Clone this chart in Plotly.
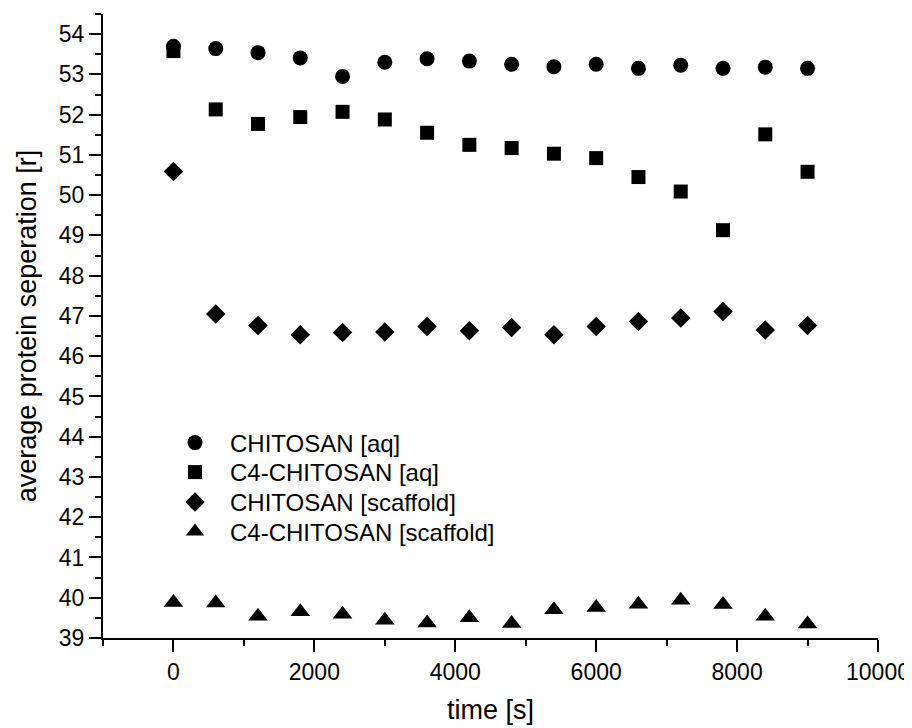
import plotly.graph_objects as go

time_s = [0, 600, 1200, 1800, 2400, 3000, 3600, 4200, 4800, 5400, 6000, 6600, 7200, 7800, 8400, 9000]

chitosan_aq = [53.70, 53.64, 53.54, 53.41, 52.95, 53.30, 53.39, 53.33, 53.25, 53.19, 53.25, 53.15, 53.23, 53.15, 53.18, 53.15]
c4_chitosan_aq = [53.58, 52.13, 51.77, 51.94, 52.07, 51.88, 51.55, 51.25, 51.17, 51.03, 50.92, 50.45, 50.09, 49.13, 51.51, 50.58]
chitosan_scaffold = [50.59, 47.05, 46.76, 46.53, 46.59, 46.60, 46.74, 46.63, 46.71, 46.53, 46.74, 46.86, 46.95, 47.11, 46.65, 46.76]
c4_chitosan_scaffold = [39.88, 39.87, 39.54, 39.65, 39.59, 39.44, 39.37, 39.50, 39.36, 39.70, 39.76, 39.84, 39.94, 39.83, 39.54, 39.35]

series_names = ["CHITOSAN [aq]", "C4-CHITOSAN [aq]", "CHITOSAN [scaffold]", "C4-CHITOSAN [scaffold]"]
series_values = [chitosan_aq, c4_chitosan_aq, chitosan_scaffold, c4_chitosan_scaffold]
symbols = ["circle", "square", "diamond", "triangle-up"]
sizes = [15, 14, 15, 17]
legend_ids = ["legend", "legend2", "legend3", "legend4"]
# legend row centres, in page pixels from the top
legend_rows_px = [443.0, 472.5, 502.5, 532.0]

FONT = "Liberation Sans, Arial, sans-serif"
PAGE_OFFSET = 8  # default body margin of the html page
W, H = 912 - PAGE_OFFSET, 728 - PAGE_OFFSET
ML, MR, MT, MB = 103 - PAGE_OFFSET, 34, 14 - PAGE_OFFSET, 90
PLOT_W = W - ML - MR
PLOT_H = H - MT - MB
PLOT_LEFT_PAGE = ML + PAGE_OFFSET
PLOT_BOTTOM_PAGE = H - MB + PAGE_OFFSET

fig = go.Figure()
for name, vals, sym, sz, lid in zip(series_names, series_values, symbols, sizes, legend_ids):
    fig.add_trace(go.Scatter(
        x=time_s, y=vals, mode="markers", name=name, legend=lid,
        marker=dict(symbol=sym, size=sz, color="black", line=dict(width=0)),
    ))

axis_common = dict(
    showgrid=False, zeroline=False, showline=True, linecolor="black", linewidth=2,
    ticks="outside", ticklen=12, tickwidth=2, tickcolor="black",
    tickfont=dict(family=FONT, size=23, color="black"),
    automargin=False,
)

fig.update_xaxes(
    range=[-1000, 10000], tick0=0, dtick=2000, tickformat="d",
    minor=dict(ticks="outside", ticklen=6, tickwidth=2, tickcolor="black", dtick=1000, tick0=0, showgrid=False),
    title=dict(text="time [s]", font=dict(family=FONT, size=27, color="black"), standoff=17),
    **axis_common,
)
fig.update_yaxes(
    range=[39, 54.5], tick0=39, dtick=1, tickformat="d",
    minor=dict(ticks="outside", ticklen=6, tickwidth=2, tickcolor="black", dtick=0.5, tick0=39, showgrid=False),
    title=dict(text="average protein seperation [r]", font=dict(family=FONT, size=27, color="black"), standoff=14),
    **axis_common,
)

legend_x = (160 - PLOT_LEFT_PAGE) / PLOT_W
layout_legends = {}
for lid, ypx in zip(legend_ids, legend_rows_px):
    layout_legends[lid] = dict(
        x=legend_x, y=(PLOT_BOTTOM_PAGE - ypx) / PLOT_H, xanchor="left", yanchor="middle",
        font=dict(family=FONT, size=24, color="black"),
        bgcolor="rgba(0,0,0,0)", borderwidth=0, itemwidth=60,
    )

fig.update_layout(
    template="none",
    width=W, height=H,
    margin=dict(l=ML, r=MR, t=MT, b=MB),
    paper_bgcolor="white", plot_bgcolor="white",
    showlegend=True,
    **layout_legends,
)

fig.write_html("out.html")
